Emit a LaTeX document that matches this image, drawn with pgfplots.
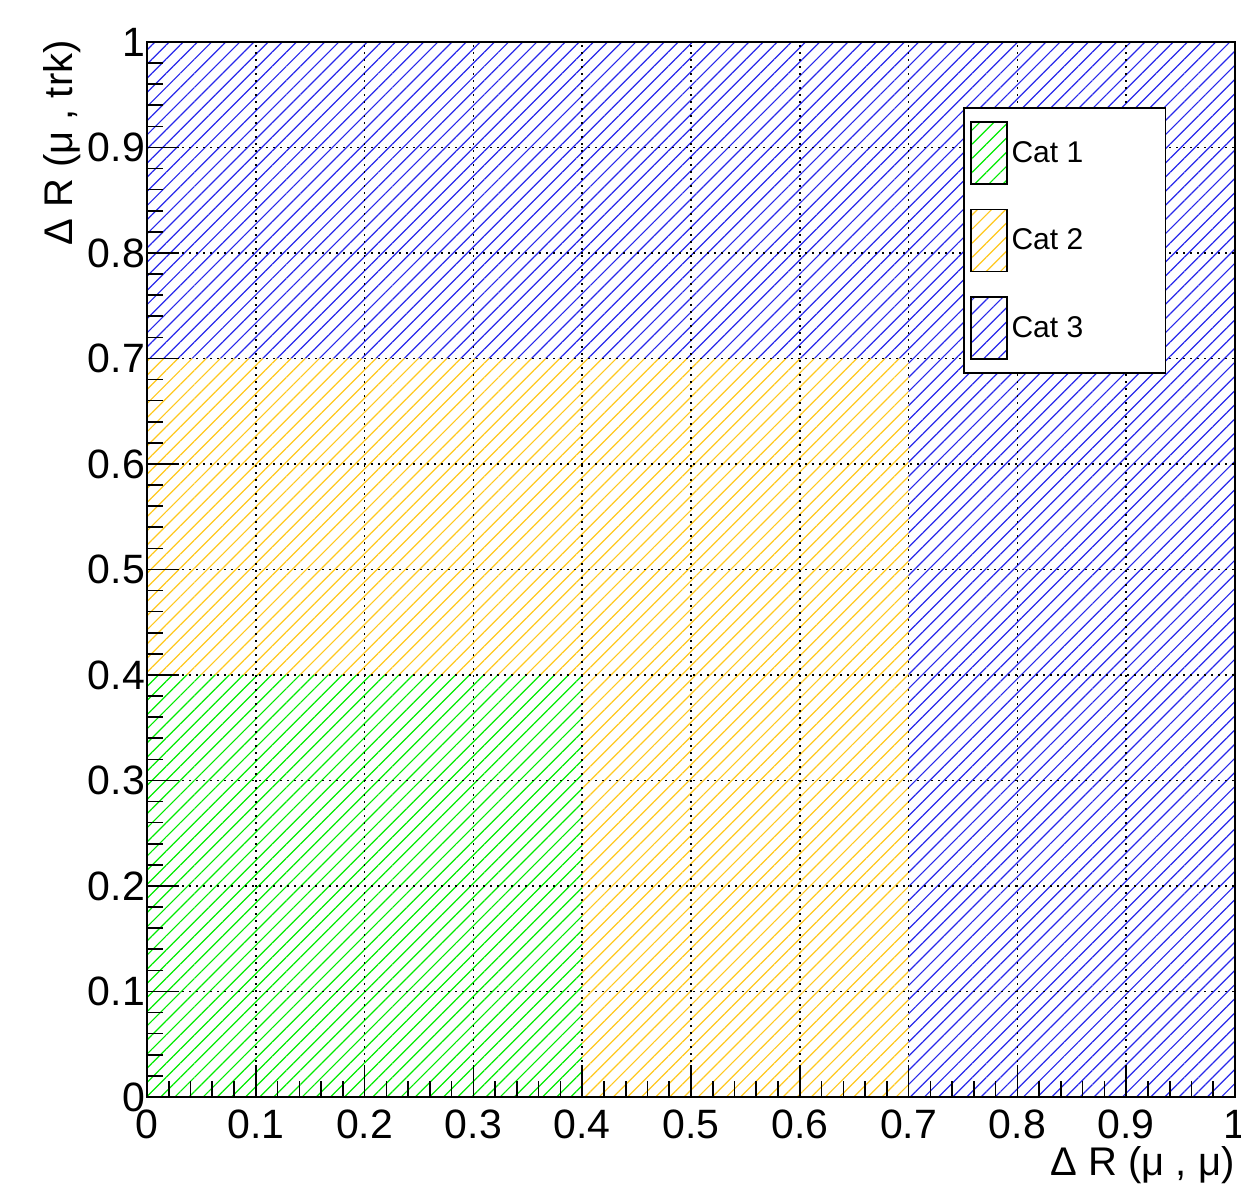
\documentclass[border=0pt]{standalone}
\usepackage{fontspec}
\setmainfont{Liberation Sans}
\usepackage{pgfplots}
\pgfplotsset{compat=1.18}
\usetikzlibrary{patterns.meta}
\definecolor{catgreen}{RGB}{0,235,0}
\definecolor{catyellow}{RGB}{255,200,30}
\definecolor{catblue}{RGB}{40,40,235}
\begin{document}
\begin{tikzpicture}
\begin{axis}[
  name=ax,
  scale only axis,
  width=544pt, height=527.5pt,
  xmin=0, xmax=1, ymin=0, ymax=1,
  xtick={0,0.1,...,1}, ytick={0,0.1,...,1},
  minor tick num=4,
  tick pos=left,
  tick align=inside,
  major tick length=16pt,
  minor tick length=8pt,
  every tick/.style={black, line width=0.8pt},
  axis line style={line width=1.2pt},
  grid=major,
  grid style={black, line width=0.8pt, dash pattern=on 1pt off 2.5pt},
  axis on top,
  /pgf/number format/assume math mode=true,
  ticklabel style={font=\fontsize{20.5}{24}\selectfont},
  yticklabel style={xshift=2.5pt},
  xticklabel style={yshift=-3pt},
  label style={font=\fontsize{20}{24}\selectfont, inner sep=0pt},
  xlabel={Δ R (μ , μ)},
  ylabel={Δ R (μ , trk)},
  xlabel style={at={(axis description cs:1,-0.0645)}, anchor=east},
  ylabel style={at={(axis description cs:-0.078,1.002)}, anchor=east, rotate=0},
  legend image code/.code={\draw[#1, draw=black, line width=0.8pt] (0pt,-15.5pt) rectangle (18pt,15.5pt);},
  legend cell align=left,
  legend style={at={(rel axis cs:0.75,0.938)}, anchor=north west, draw=black, line width=0.9pt, fill=white,
    font=\fontsize{15}{18}\selectfont, inner xsep=3pt, inner ysep=6.5pt, row sep=12pt},
]
\addplot[draw=none, pattern={Lines[angle=45,distance=5pt,line width=0.6pt]}, pattern color=catgreen]
  coordinates {(0,0) (0.4,0) (0.4,0.4) (0,0.4)} -- cycle;
\addlegendentry{\makebox[72pt][l]{Cat 1}}
\addplot[draw=none, pattern={Lines[angle=45,distance=5pt,line width=0.6pt]}, pattern color=catyellow]
  coordinates {(0,0.4) (0.4,0.4) (0.4,0) (0.7,0) (0.7,0.7) (0,0.7)} -- cycle;
\addlegendentry{\makebox[72pt][l]{Cat 2}}
\addplot[draw=none, pattern={Lines[angle=45,distance=5pt,line width=0.6pt]}, pattern color=catblue]
  coordinates {(0,0.7) (0.7,0.7) (0.7,0) (1,0) (1,1) (0,1)} -- cycle;
\addlegendentry{\makebox[72pt][l]{Cat 3}}
\end{axis}
\pgfresetboundingbox
\path ([shift={(-73.5pt,-45pt)}]ax.south west) rectangle ([shift={(3pt,21pt)}]ax.north east);
\end{tikzpicture}
\end{document}
